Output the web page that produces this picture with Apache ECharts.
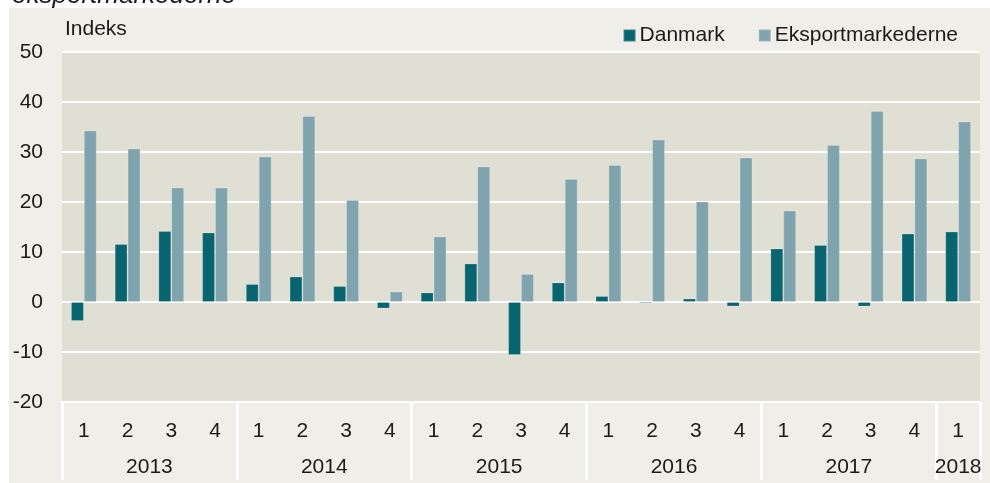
<!DOCTYPE html>
<html>
<head>
<meta charset="utf-8">
<script src="https://cdn.jsdelivr.net/npm/echarts@6/dist/echarts.min.js"></script>
<style>
  html, body { margin: 0; padding: 0; background: #fff; }
  #main { width: 990px; height: 483px; }
</style>
</head>
<body>
<div id="main"></div>
<script>
// kvartaler 2013K1 - 2018K1
var quarters = ['1','2','3','4','1','2','3','4','1','2','3','4','1','2','3','4','1','2','3','4','1']
var years = ['2013', '2014', '2015', '2016', '2017', '2018']
var quartersPerYear = [4, 4, 4, 4, 4, 1]
var danmark = [-3.8, 11.6, 14.2, 13.9, 3.6, 5.1, 3.2, -1.3, 1.9, 7.7, -10.6, 3.9,
  1.2, -0.3, 0.7, -0.9, 10.7, 11.4, -0.9, 13.7, 14.1]
var eksport = [34.3, 30.7, 22.9, 22.9, 29.1, 37.2, 20.4, 2.1, 13.1, 27.1, 5.6, 24.6,
  27.4, 32.5, 20.1, 28.9, 18.3, 31.4, 38.2, 28.7, 36.1]
var yTicks = [50, 40, 30, 20, 10, 0, -10, -20]

// aarsakse: halve kvartaler, saa aarstal kan staa midt i gruppen
var yearSlots = []
var yearBounds = {}
var pos = 0
yearBounds[0] = true
years.forEach(function (y, i) {
  var n = quartersPerYear[i] * 2
  for (var k = 0; k < n; k++) yearSlots.push(k === n / 2 ? y : '')
  pos += n
  yearBounds[pos] = true
})
yearSlots.push('')

var font = 'Liberation Sans, Arial, sans-serif'
var chart = echarts.init(document.getElementById('main'))
chart.setOption({
  backgroundColor: '#ffffff',
  animation: false,
  textStyle: { fontFamily: font },
  graphic: [
    { type: 'rect', left: 9, top: 8, shape: { width: 981, height: 475 }, style: { fill: '#efeee8' }, z: -10 },
    { type: 'text', left: 12, top: -17, style: { text: 'eksportmarkederne', fontSize: 26, fontStyle: 'italic', fill: '#1a1a1a', fontFamily: font } },
    { type: 'text', left: 65, top: 19, style: { text: 'Indeks', fontSize: 21, fill: '#1a1a1a', fontFamily: font } }
  ],
  legend: {
    right: 27,
    top: 20,
    itemWidth: 12,
    itemHeight: 12,
    itemGap: 33,
    icon: 'rect',
    textStyle: { fontSize: 21, color: '#1a1a1a', padding: [0, 0, 0, -1] },
    data: ['Danmark', 'Eksportmarkederne']
  },
  grid: {
    left: 62,
    right: 10,
    top: 52,
    bottom: 81,
    show: true,
    backgroundColor: '#e0dfd4',
    borderWidth: 0
  },
  xAxis: [
    {
      type: 'category',
      data: quarters,
      axisLine: { show: false },
      axisTick: { show: false },
      axisLabel: { fontSize: 21, color: '#1a1a1a', margin: 19, interval: 0 }
    },
    {
      type: 'category',
      position: 'bottom',
      data: yearSlots,
      boundaryGap: false,
      axisLine: { show: false },
      axisTick: {
        show: true,
        length: 78,
        interval: function (index) { return !!yearBounds[index] },
        lineStyle: { color: '#ffffff', width: 3 }
      },
      axisLabel: {
        fontSize: 21,
        color: '#1a1a1a',
        margin: 55,
        interval: function (index, value) { return value !== '' }
      }
    }
  ],
  yAxis: {
    type: 'value',
    min: yTicks[yTicks.length - 1],
    max: yTicks[0],
    interval: 10,
    axisLine: { show: false },
    axisTick: { show: false },
    axisLabel: { fontSize: 21, color: '#1a1a1a', margin: 19 },
    splitLine: { lineStyle: { color: '#ffffff', width: 2 } }
  },
  series: [
    {
      name: 'Danmark',
      type: 'bar',
      data: danmark,
      barGap: 0,
      barCategoryGap: '41%',
      itemStyle: { color: '#08656f', borderColor: 'rgba(255,255,255,0.2)', borderWidth: 1 }
    },
    {
      name: 'Eksportmarkederne',
      type: 'bar',
      data: eksport,
      barGap: 0,
      barCategoryGap: '41%',
      itemStyle: { color: '#7fa4ad', borderColor: 'rgba(255,255,255,0.2)', borderWidth: 1 }
    }
  ]
})
</script>
</body>
</html>
